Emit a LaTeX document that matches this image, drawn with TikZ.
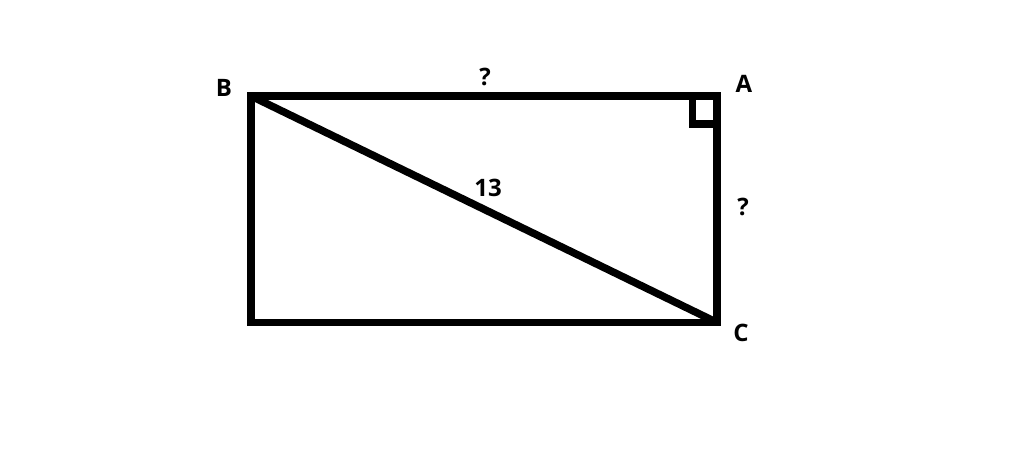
\documentclass[tikz,border=0pt]{standalone}
\usepackage{fontspec}
\setmainfont{Open Sans}
\begin{document}
\begin{tikzpicture}[x=1pt,y=-1pt,
  edge/.style={line width=7.5pt,line join=miter,line cap=rect},
  lbl/.style={font=\bfseries\fontsize{24}{26}\selectfont,inner sep=0pt}]
\useasboundingbox (0,0) rectangle (1024,469);
\fill[white] (0,0) rectangle (1024,469);
\coordinate (B) at (251,96);
\coordinate (A) at (717,96);
\coordinate (C) at (717,322.5);
\coordinate (D) at (251,322.5);
\draw[edge] (B) -- (A) -- (C) -- (D) -- cycle;
\draw[edge,line cap=butt] (B) -- (C);
\draw[line width=7.5pt,line join=miter] (692.5,96) -- (692.5,124) -- (717,124);
\node[lbl] (lB) at (224,88) {B};
\node[lbl] (lA) at (744,84) {A};
\node[lbl] (lC) at (741,333) {C};
\node[lbl] (qt) at (485,77) {?};
\node[lbl] (qr) at (743,207) {?};
\node[lbl] (n13) at (488,188) {13};
\end{tikzpicture}
\end{document}
